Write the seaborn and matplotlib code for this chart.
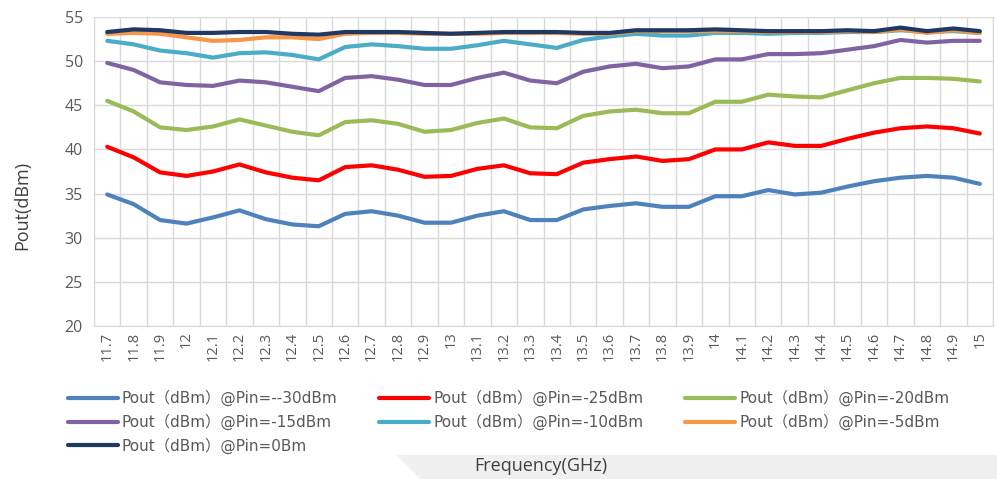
import pandas as pd
import numpy as np
import seaborn as sns
import matplotlib.pyplot as plt
from matplotlib.patches import Polygon
from matplotlib.ticker import FixedLocator

freqs = ["11.7", "11.8", "11.9", "12", "12.1", "12.2", "12.3", "12.4", "12.5", "12.6",
         "12.7", "12.8", "12.9", "13", "13.1", "13.2", "13.3", "13.4", "13.5", "13.6",
         "13.7", "13.8", "13.9", "14", "14.1", "14.2", "14.3", "14.4", "14.5", "14.6",
         "14.7", "14.8", "14.9", "15"]

pin_m30 = [34.9, 33.8, 32.0, 31.6, 32.3, 33.1, 32.1, 31.5, 31.3, 32.7,
           33.0, 32.5, 31.7, 31.7, 32.5, 33.0, 32.0, 32.0, 33.2, 33.6,
           33.9, 33.5, 33.5, 34.7, 34.7, 35.4, 34.9, 35.1, 35.8, 36.4,
           36.8, 37.0, 36.8, 36.1]
pin_m25 = [40.3, 39.1, 37.4, 37.0, 37.5, 38.3, 37.4, 36.8, 36.5, 38.0,
           38.2, 37.7, 36.9, 37.0, 37.8, 38.2, 37.3, 37.2, 38.5, 38.9,
           39.2, 38.7, 38.9, 40.0, 40.0, 40.8, 40.4, 40.4, 41.2, 41.9,
           42.4, 42.6, 42.4, 41.8]
pin_m20 = [45.5, 44.3, 42.5, 42.2, 42.6, 43.4, 42.7, 42.0, 41.6, 43.1,
           43.3, 42.9, 42.0, 42.2, 43.0, 43.5, 42.5, 42.4, 43.8, 44.3,
           44.5, 44.1, 44.1, 45.4, 45.4, 46.2, 46.0, 45.9, 46.7, 47.5,
           48.1, 48.1, 48.0, 47.7]
pin_m15 = [49.8, 49.0, 47.6, 47.3, 47.2, 47.8, 47.6, 47.1, 46.6, 48.1,
           48.3, 47.9, 47.3, 47.3, 48.1, 48.7, 47.8, 47.5, 48.8, 49.4,
           49.7, 49.2, 49.4, 50.2, 50.2, 50.8, 50.8, 50.9, 51.3, 51.7,
           52.4, 52.1, 52.3, 52.3]
pin_m10 = [52.3, 51.9, 51.2, 50.9, 50.4, 50.9, 51.0, 50.7, 50.2, 51.6,
           51.9, 51.7, 51.4, 51.4, 51.8, 52.3, 51.9, 51.5, 52.4, 52.8,
           53.1, 52.9, 52.9, 53.2, 53.2, 53.1, 53.2, 53.2, 53.3, 53.3,
           53.5, 53.3, 53.4, 53.2]
pin_m5 = [53.1, 53.2, 53.1, 52.7, 52.3, 52.4, 52.7, 52.7, 52.5, 53.1,
          53.2, 53.2, 53.1, 53.1, 53.1, 53.2, 53.2, 53.2, 53.1, 53.1,
          53.4, 53.4, 53.4, 53.4, 53.4, 53.3, 53.3, 53.3, 53.4, 53.3,
          53.6, 53.2, 53.5, 53.2]
pin_0 = [53.3, 53.6, 53.5, 53.2, 53.2, 53.3, 53.3, 53.1, 53.0, 53.3,
         53.3, 53.3, 53.2, 53.1, 53.2, 53.3, 53.3, 53.3, 53.2, 53.2,
         53.5, 53.5, 53.5, 53.6, 53.5, 53.4, 53.4, 53.4, 53.5, 53.4,
         53.8, 53.4, 53.7, 53.4]

labels = ["Pout（dBm）@Pin=--30dBm", "Pout（dBm）@Pin=-25dBm", "Pout（dBm）@Pin=-20dBm",
          "Pout（dBm）@Pin=-15dBm", "Pout（dBm）@Pin=-10dBm", "Pout（dBm）@Pin=-5dBm",
          "Pout（dBm）@Pin=0Bm"]
series = [pin_m30, pin_m25, pin_m20, pin_m15, pin_m10, pin_m5, pin_0]
colors = ["#4f81bd", "#ff0000", "#9bbb59", "#8064a2", "#4bacc6", "#f79646", "#1f3864"]

df = pd.concat([pd.DataFrame({"freq": freqs, "pout": vals, "series": lab})
                for lab, vals in zip(labels, series)], ignore_index=True)

sns.set_style("white")
plt.rcParams["font.family"] = ["Open Sans", "DejaVu Sans"]

fig = plt.figure(figsize=(9.97, 4.79), dpi=100)
ax = fig.add_axes([0.0943, 0.3194, 0.9017, 0.6451])

sns.lineplot(data=df, x="freq", y="pout", hue="series", hue_order=labels,
             palette=colors, sort=False, linewidth=3, ax=ax, legend=True)

ax.set_ylim(20, 55)
ax.set_yticks(range(20, 56, 5))
ax.set_xlim(-0.5, len(freqs) - 0.5)
ax.xaxis.set_minor_locator(FixedLocator(np.arange(-0.5, len(freqs), 1.0)))
ax.grid(True, which="major", axis="y", color="#d9d9d9", linewidth=1)
ax.grid(True, which="minor", axis="x", color="#d9d9d9", linewidth=1)
ax.grid(False, which="major", axis="x")
for s in ax.spines.values():
    s.set_color("#d9d9d9")
ax.spines["top"].set_visible(False)
ax.tick_params(axis="x", which="major", length=0, labelrotation=90, labelsize=10.5,
               labelcolor="#595959", pad=4)
ax.tick_params(axis="x", which="minor", length=4, color="#d9d9d9")
ax.tick_params(axis="y", length=0, labelsize=11.5, labelcolor="#595959", pad=8)
ax.set_xlabel("")
ax.set_ylabel("Pout(dBm)", fontsize=13, color="#404040")
ax.yaxis.set_label_coords(-0.07, 0.39)

handles, labs = ax.get_legend_handles_labels()
order = [0, 3, 6, 1, 4, 2, 5]
ax.legend([handles[i] for i in order], [labs[i] for i in order], ncol=3,
          loc="upper left", bbox_to_anchor=(0.068, 0.186), bbox_transform=fig.transFigure,
          frameon=False, handlelength=3.27, handletextpad=0.25, columnspacing=2.75,
          labelspacing=0.5, borderaxespad=0, borderpad=0,
          prop={"family": ["DejaVu Sans", "Noto Sans CJK SC"], "size": 11},
          labelcolor="#595959")

band = Polygon([[0.398, 0.05], [1.0, 0.05], [1.0, 0.0], [0.421, 0.0]],
               closed=True, transform=fig.transFigure, facecolor="#f0f0f0",
               edgecolor="none", zorder=0)
fig.patches.append(band)
fig.text(0.542, 0.027, "Frequency(GHz)", ha="center", va="center",
         fontsize=13, color="#404040")

fig.savefig("out.png", dpi=100)
